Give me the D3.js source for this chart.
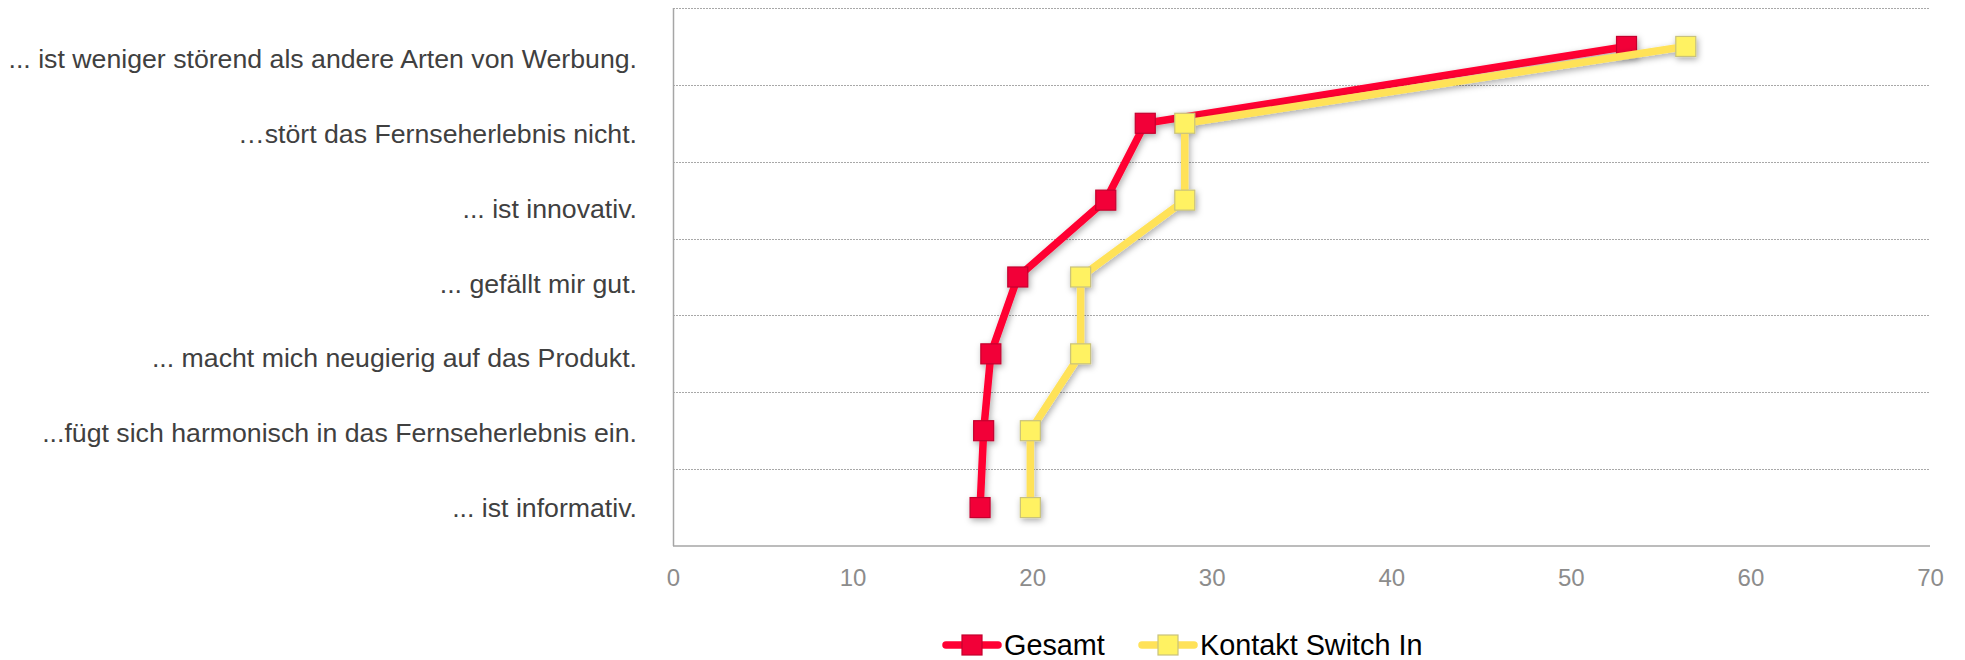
<!DOCTYPE html>
<html>
<head>
<meta charset="utf-8">
<script src="https://cdn.jsdelivr.net/npm/d3@7"></script>
<style>
  body { margin: 0; background: #ffffff; }
  svg { display: block; font-family: "Liberation Sans", Arial, sans-serif; }
</style>
</head>
<body>
<svg id="chart" width="1965" height="660"></svg>
<script>
// Statements about the ad format, top to bottom
const categories = [
  "... ist weniger störend als andere Arten von Werbung.",
  "…stört das Fernseherlebnis nicht.",
  "... ist innovativ.",
  "... gefällt mir gut.",
  "... macht mich neugierig auf das Produkt.",
  "...fügt sich harmonisch in das Fernseherlebnis ein.",
  "... ist informativ."
];

// Agreement in percent per group
const gesamt  = [53.1, 26.3, 24.1, 19.2, 17.7, 17.3, 17.1];
const kontakt = [56.4, 28.5, 28.5, 22.7, 22.7, 19.9, 19.9];

const xTicks = [0, 10, 20, 30, 40, 50, 60, 70];
const seriesNames = ["Gesamt", "Kontakt Switch In"];

const series = [
  { name: seriesNames[0], values: gesamt,  line: "#ff0033", fill: "#f20038", edge: "#c4002e" },
  { name: seriesNames[1], values: kontakt, line: "#ffe259", fill: "#fff262", edge: "#c9c27c" }
];

const svg = d3.select("#chart");

const plot = { left: 673, right: 1930, top: 8, bottom: 546 };

const x = d3.scaleLinear().domain([0, 70]).range([plot.left, plot.right]);
const y = d3.scaleBand().domain(categories).range([plot.top, plot.bottom]);
const yMid = c => y(c) + y.bandwidth() / 2;
const yLabel = d3.scalePoint().domain(categories).range([61, 510]);

// soft shadow under the series
const defs = svg.append("defs");
const f = defs.append("filter").attr("id", "shadow")
  .attr("x", "-10%").attr("y", "-10%").attr("width", "130%").attr("height", "130%");
f.append("feDropShadow")
  .attr("dx", 1.5).attr("dy", 2.5).attr("stdDeviation", 3.2)
  .attr("flood-color", "#000").attr("flood-opacity", 0.33);

// dotted horizontal gridlines at row boundaries
svg.append("g").selectAll("line")
  .data(categories)
  .join("line")
  .attr("x1", plot.left).attr("x2", plot.right)
  .attr("y1", c => Math.round(y(c)) + 0.5).attr("y2", c => Math.round(y(c)) + 0.5)
  .attr("stroke", "#a8a8a8").attr("stroke-width", 1)
  .attr("stroke-dasharray", "2,1");

// axis lines
svg.append("line")
  .attr("x1", plot.left + 0.5).attr("x2", plot.left + 0.5)
  .attr("y1", plot.top).attr("y2", plot.bottom)
  .attr("stroke", "#a6a6a6").attr("stroke-width", 1.5);
svg.append("line")
  .attr("x1", plot.left).attr("x2", plot.right)
  .attr("y1", plot.bottom).attr("y2", plot.bottom)
  .attr("stroke", "#a6a6a6").attr("stroke-width", 1.5);

// x axis tick labels
const xAxis = svg.append("g")
  .attr("transform", `translate(0,${plot.bottom})`)
  .call(d3.axisBottom(x).tickValues(xTicks).tickSize(0).tickPadding(23));
xAxis.select(".domain").remove();
xAxis.selectAll("text")
  .attr("font-family", "'Liberation Sans', Arial, sans-serif")
  .attr("font-size", 24)
  .attr("fill", "#8c8c8c");

// category labels
svg.append("g").selectAll("text")
  .data(categories)
  .join("text")
  .attr("x", 637)
  .attr("y", c => yLabel(c) + 7)
  .attr("text-anchor", "end")
  .attr("font-size", 26.7)
  .attr("fill", "#404040")
  .text(c => c);

// series lines and square markers
const line = d3.line()
  .x(d => x(d.v))
  .y(d => yMid(d.c));

const mk = 20;
series.forEach(s => {
  const pts = s.values.map((v, i) => ({ v, c: categories[i] }));
  const g = svg.append("g").attr("filter", "url(#shadow)");
  g.append("path")
    .datum(pts)
    .attr("d", line)
    .attr("fill", "none")
    .attr("stroke", s.line)
    .attr("stroke-width", 7.5)
    .attr("stroke-linejoin", "round");
  g.selectAll("rect")
    .data(pts)
    .join("rect")
    .attr("x", d => x(d.v) - mk / 2)
    .attr("y", d => yMid(d.c) - mk / 2)
    .attr("width", mk).attr("height", mk)
    .attr("fill", s.fill)
    .attr("stroke", s.edge).attr("stroke-width", 1.2);
});

// legend
const legendItems = [
  { s: series[0], x0: 943 },
  { s: series[1], x0: 1139 }
];
const ly = 645;
const lg = svg.append("g");
legendItems.forEach(it => {
  const g = lg.append("g").attr("transform", `translate(${it.x0},${ly})`);
  g.append("line")
    .attr("x1", 3).attr("x2", 55)
    .attr("y1", 0).attr("y2", 0)
    .attr("stroke", it.s.line).attr("stroke-width", 7.5)
    .attr("stroke-linecap", "round");
  g.append("rect")
    .attr("x", 29 - mk / 2).attr("y", -mk / 2)
    .attr("width", mk).attr("height", mk)
    .attr("fill", it.s.fill)
    .attr("stroke", it.s.edge).attr("stroke-width", 1.2);
  g.append("text")
    .attr("x", 61).attr("y", 10)
    .attr("font-size", 28.8)
    .attr("fill", "#000")
    .text(it.s.name);
});
</script>
</body>
</html>
